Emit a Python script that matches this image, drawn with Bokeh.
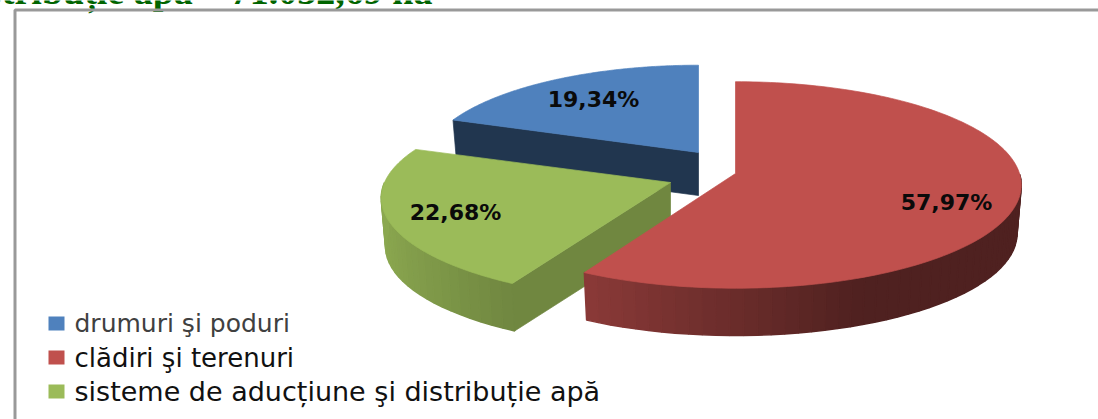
import numpy as np
from bokeh.plotting import figure, ColumnDataSource
from bokeh.core.properties import value
from bokeh.embed import file_html
from bokeh.resources import INLINE

categories = ["drumuri şi poduri", "clădiri şi terenuri", "sisteme de aducțiune şi  distribuție apă"]
shares = [19.34, 57.97, 22.68]
share_labels = ["19,34%", "57,97%", "22,68%"]
colors = ["#4f81bd", "#c0504d", "#9bbb59"]
heading = ["distribuție apă – 71.032,69 ha"]

# layout (page pixels): apex, radii, perspective and extrusion of each exploded slice
centers = [(698, 152), (735, 173), (670, 182)]
radii = [(272, 97), (284, 102), (286, 100)]
perspective = [0.111, 0.111, 0.15]
depths = [43, 49, 49]
inner_shade = [0.42, 0.72, 0.72]
label_pos = [(593, 99), (946, 202), (455, 212)]
legend_y = [323, 357, 391]
legend_size = ["25px", "26px", "27px"]
legend_text_color = ["#404040", "#111111", "#111111"]
W, H = 1098, 419


def ring(theta, c, r, k, dy=0.0, shrink=1.0):
    u, v = np.sin(theta), -np.cos(theta)
    s = shrink / (1 - k * v)
    return c[0] + r[0] * u * s, c[1] + dy + r[1] * v * s


def shade(col, f):
    rgb = [int(col[i:i + 2], 16) for i in (1, 3, 5)]
    return "#%02x%02x%02x" % tuple(int(round(x * f)) for x in rgb)


total = sum(shares)
edges = np.cumsum([0.0] + shares) / total * 2 * np.pi - shares[0] / total * 2 * np.pi

xs, ys, fills, widths = [], [], [], []


def add(x, y, c, w=0.7):
    xs.append(list(x))
    ys.append(list(y))
    fills.append(c)
    widths.append(w)


for i in (0, 2, 1):  # painter's order: back slice, left slice, large slice
    a0, a1 = edges[i], edges[i + 1]
    c, r, d, col, k = centers[i], radii[i], depths[i], colors[i], perspective[i]
    # outer wall, shaded by horizontal direction; the far side is hidden
    n = max(8, int((a1 - a0) / np.radians(2.5)))
    th = np.linspace(a0, a1, n + 1)
    for t0, t1 in zip(th[:-1], th[1:]):
        mid = (t0 + t1) / 2
        if -np.cos(mid) < 0:
            continue
        xa, ya = ring(t0, c, r, k)
        xb, yb = ring(t1, c, r, k)
        xc, yc = ring(t1, c, r, k, d, 0.985)
        xd, yd = ring(t0, c, r, k, d, 0.985)
        f = np.interp(np.sin(mid), [-1, -0.48, 0.4, 1], [0.9, 0.72, 0.41, 0.41])
        add([xa, xb, xc, xd], [ya, yb, yc, yd], shade(col, f), 1.5)
    # cut face on the slice's starting edge (the only one facing the viewer)
    if i != 1:
        x0, y0 = ring(a0, c, r, k)
        x1, y1 = ring(a0, c, r, k, d, 0.985)
        add([c[0], x0, x1, c[0]], [c[1], y0, y1, c[1] + d], shade(col, inner_shade[i]))
    # top face
    th = np.linspace(a0, a1, 160)
    tx, ty = ring(th, c, r, k)
    add([c[0]] + list(tx), [c[1]] + list(ty), col)

p = figure(width=W, height=H, output_backend="svg", toolbar_location=None,
           x_range=(0, W), y_range=(H, 0), min_border=0,
           background_fill_color="white", border_fill_color="white", outline_line_color=None)
p.axis.visible = False
p.grid.visible = False

# heading above the frame, cut by the top of the picture as in the reference
p.text([432], [-10], text=heading, text_font=value("Liberation Serif"), text_font_size="38px",
       text_font_style="bold", text_align="right", text_baseline="alphabetic", text_color="#006400")

# picture frame
p.line([14.5, 14.5, W], [H, 9.5, 9.5], line_color="#999999", line_width=3)

src = ColumnDataSource(dict(xs=xs, ys=ys, c=fills, w=widths))
p.patches("xs", "ys", source=src, fill_color="c", line_color="c", line_width="w")

p.text([q[0] for q in label_pos], [q[1] for q in label_pos], text=share_labels,
       text_font=value("DejaVu Sans"), text_font_size="22px", text_font_style="bold",
       text_align="center", text_baseline="middle", text_color="#0a0a0a")

p.quad(left=[48] * 3, right=[64] * 3, top=[y - 7 for y in legend_y], bottom=[y + 7 for y in legend_y],
       fill_color=colors, line_color=None)
leg = ColumnDataSource(dict(x=[74] * 3, y=legend_y, t=categories, s=legend_size, c=legend_text_color))
p.text("x", "y", text="t", source=leg, text_font=value("DejaVu Sans"), text_font_size="s",
       text_baseline="middle", text_align="left", text_color="c")

open("out.html", "w").write(file_html(p, INLINE))
